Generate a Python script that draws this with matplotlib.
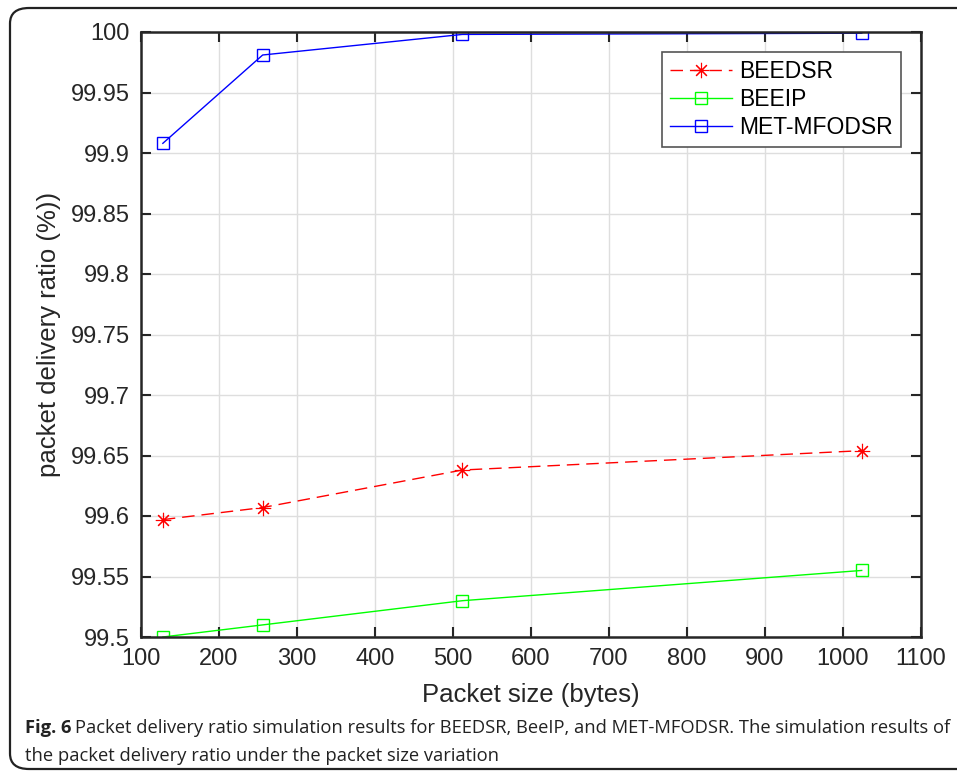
import matplotlib.pyplot as plt
from matplotlib.patches import FancyBboxPatch

# packet sizes (bytes) and delivery ratios (%)
packet_size = [128, 256, 512, 1024]
beedsr = [99.597, 99.607, 99.638, 99.654]
beeip = [99.500, 99.510, 99.530, 99.555]
met_mfodsr = [99.908, 99.981, 99.998, 99.999]

x_ticks = list(range(100, 1101, 100))
y_ticks = [99.5, 99.55, 99.6, 99.65, 99.7, 99.75, 99.8, 99.85, 99.9, 99.95, 100]
y_labels = ['99.5', '99.55', '99.6', '99.65', '99.7', '99.75', '99.8', '99.85', '99.9', '99.95', '100']

plt.rcParams['font.family'] = ['Liberation Sans', 'DejaVu Sans']

fig = plt.figure(figsize=(9.57, 7.73), dpi=100)

# rounded frame around figure + caption
frame = FancyBboxPatch((10 / 957, 4 / 773), 1.2, 1 - 12 / 773,
                       boxstyle='round,pad=0,rounding_size=0.02',
                       transform=fig.transFigure, facecolor='none',
                       edgecolor='#222222', linewidth=1.6, clip_on=False)
fig.patches.append(frame)

ax = fig.add_axes([141 / 957, 1 - 637 / 773, 780 / 957, 605 / 773])

ax.plot(packet_size, beedsr, color='#ff0000', linewidth=1, dashes=(9, 5),
        marker=(8, 2, 0), markersize=11, markeredgewidth=0.8, label='BEEDSR')
ax.plot(packet_size, beeip, color='#00ff00', linewidth=1, marker='s',
        markersize=9, markerfacecolor='none', markeredgewidth=1, label='BEEIP')
ax.plot(packet_size, met_mfodsr, color='#0000ff', linewidth=1, marker='s',
        markersize=9, markerfacecolor='none', markeredgewidth=1, label='MET-MFODSR')

ax.set_xlim(100, 1100)
ax.set_ylim(99.5, 100)
ax.set_xticks(x_ticks)
ax.set_yticks(y_ticks)
ax.set_yticklabels(y_labels)
ax.grid(True, color='#dedede', linewidth=1)
ax.set_axisbelow(True)
ax.tick_params(direction='in', length=7, width=1.5, top=True, right=True,
               labelsize=17, colors='#262626', pad=8)
for s in ax.spines.values():
    s.set_linewidth(1.8)
    s.set_color('#262626')

ax.set_xlabel('Packet size (bytes)', fontsize=18.5, color='#262626', labelpad=9)
ax.set_ylabel('packet delivery ratio (%))', fontsize=18.5, color='#262626', labelpad=7)

leg = ax.legend(loc='upper right', bbox_to_anchor=(0.974, 0.967), borderaxespad=0,
                fontsize=16.5, fancybox=False, edgecolor='#555555', framealpha=1,
                handlelength=2.7, borderpad=0.35, labelspacing=0.22,
                handletextpad=0.3)
leg.get_frame().set_linewidth(1.2)

# caption
cap_font = ['Open Sans', 'DejaVu Sans']
fig.text(25 / 957, 1 - 728 / 773, 'Fig. 6', fontsize=13.2, fontweight='bold',
         family=cap_font, va='center', color='#222222')
fig.text(75 / 957, 1 - 728 / 773,
         'Packet delivery ratio simulation results for BEEDSR, BeeIP, and MET-MFODSR. '
         'The simulation results of', fontsize=13.2,
         family=cap_font, va='center', color='#222222')
fig.text(25 / 957, 1 - 756 / 773, 'the packet delivery ratio under the packet size variation',
         fontsize=13.2, family=cap_font, va='center', color='#222222')

fig.savefig('out.png', dpi=100)
